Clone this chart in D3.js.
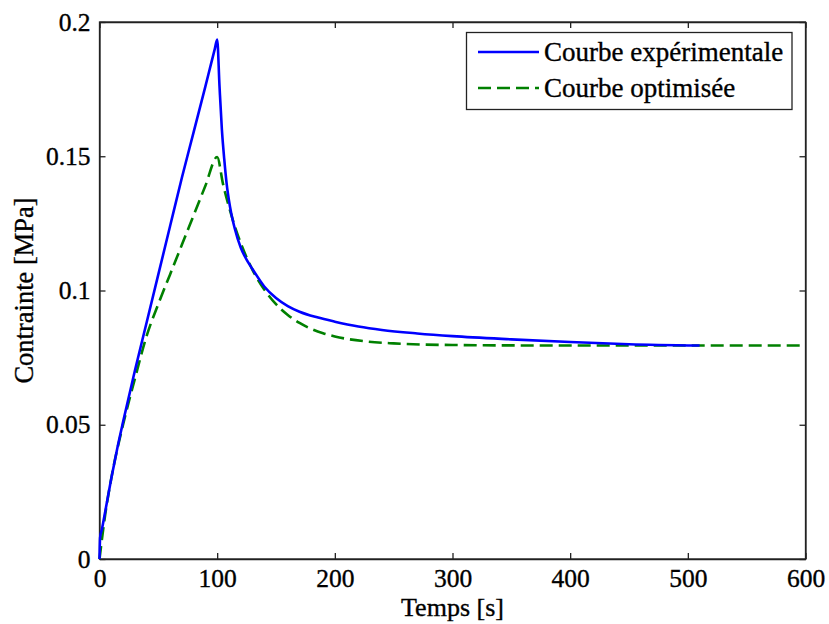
<!DOCTYPE html>
<html>
<head>
<meta charset="utf-8">
<script src="https://cdn.jsdelivr.net/npm/d3@7"></script>
<style>
  body { margin: 0; background: #fff; }
</style>
</head>
<body>
<div id="chart"></div>
<script>
// data
const expT = [0, 0.5, 2, 5, 10, 15, 20, 30, 40, 50, 60, 70, 80, 90, 95, 98, 100, 102, 104, 106, 108, 111, 115, 120, 125, 130, 140, 150, 160, 170, 185, 200, 220, 240, 270, 300, 350, 400, 450, 510];
const expV = [0, 0.008, 0.011, 0.018, 0.030, 0.041, 0.051, 0.070, 0.088, 0.106, 0.124, 0.142, 0.159, 0.176, 0.1848, 0.1900, 0.1935, 0.176, 0.160, 0.149, 0.140, 0.131, 0.123, 0.116, 0.1115, 0.108, 0.1015, 0.0972, 0.0942, 0.0921, 0.0900, 0.0884, 0.0866, 0.0853, 0.0840, 0.0830, 0.0818, 0.0808, 0.0800, 0.0795];

const optT = [0, 5, 10, 20, 30, 40, 50, 60, 70, 80, 90, 100, 105, 110, 115, 120, 130, 140, 150, 160, 170, 180, 190, 200, 225, 250, 300, 400, 500, 600];
const optV = [0, 0.017, 0.030, 0.050, 0.067, 0.083, 0.095, 0.106, 0.117, 0.128, 0.139, 0.1497, 0.1396, 0.1312, 0.1239, 0.1177, 0.1077, 0.1004, 0.0949, 0.0909, 0.0879, 0.0857, 0.0841, 0.0829, 0.0811, 0.0803, 0.0797, 0.0795, 0.0795, 0.0795];

const xTicks = [0, 100, 200, 300, 400, 500, 600];
const yTicks = [0, 0.05, 0.1, 0.15, 0.2];
const seriesNames = ["Courbe expérimentale", "Courbe optimisée"];

const serif = 'Liberation Serif';

// slightly heavier text, like the original export
function textStyle(sel, size) {
    sel.style('font-family', serif)
        .style('font-size', size + 'px')
        .attr('fill', '#000')
        .attr('stroke', '#000')
        .attr('stroke-width', 0.35);
}

function drawChart() {
    const width = 829, height = 624;
    const left = 99.5, right = 805.5, plotTop = 22, bottom = 559;

    const svg = d3.select('#chart').append('svg')
        .attr('width', width)
        .attr('height', height);

    svg.append('rect').attr('width', width).attr('height', height).attr('fill', '#fff');

    const x = d3.scaleLinear().domain([0, 600]).range([left, right]);
    const y = d3.scaleLinear().domain([0, 0.2]).range([bottom, plotTop]);

    // axes (ticks inside, box around)
    svg.append('g')
        .attr('transform', `translate(0,${bottom})`)
        .call(d3.axisBottom(x).tickValues(xTicks).tickSizeInner(-6).tickSizeOuter(0).tickPadding(10).tickFormat(d3.format('d')));

    svg.append('g')
        .attr('transform', `translate(${left},0)`)
        .call(d3.axisLeft(y).tickValues(yTicks).tickSizeInner(-6).tickSizeOuter(0).tickPadding(9).tickFormat(d => d3.format('~g')(d)));

    svg.append('g')
        .attr('transform', `translate(0,${plotTop})`)
        .call(d3.axisTop(x).tickValues(xTicks).tickSizeInner(-6).tickSizeOuter(0).tickFormat(''));

    svg.append('g')
        .attr('transform', `translate(${right},0)`)
        .call(d3.axisRight(y).tickValues(yTicks).tickSizeInner(-6).tickSizeOuter(0).tickFormat(''));

    svg.selectAll('.tick text').call(textStyle, 25.5);
    svg.selectAll('.domain').attr('stroke', '#222').attr('stroke-width', 1.3);
    svg.selectAll('.tick line').attr('stroke', '#222').attr('stroke-width', 1.3);

    svg.append('rect')
        .attr('x', left).attr('y', plotTop)
        .attr('width', right - left).attr('height', bottom - plotTop)
        .attr('fill', 'none').attr('stroke', '#222').attr('stroke-width', 1.3);

    // curves
    const line = d3.line().curve(d3.curveMonotoneX).x(d => x(d[0])).y(d => y(d[1]));

    svg.append('path')
        .datum(optT.map((t, i) => [t, optV[i]]))
        .attr('d', line)
        .attr('fill', 'none')
        .attr('stroke', '#008000')
        .attr('stroke-width', 2.6)
        .attr('stroke-dasharray', '13,6');

    svg.append('path')
        .datum(expT.map((t, i) => [t, expV[i]]))
        .attr('d', line)
        .attr('fill', 'none')
        .attr('stroke', '#0000ff')
        .attr('stroke-width', 2.6);

    // axis labels
    svg.append('text')
        .attr('x', (left + right) / 2)
        .attr('y', 616)
        .attr('text-anchor', 'middle')
        .call(textStyle, 26)
        .text('Temps [s]');

    svg.append('text')
        .attr('transform', `translate(33,${(plotTop + bottom) / 2}) rotate(-90)`)
        .attr('text-anchor', 'middle')
        .call(textStyle, 26.5)
        .text('Contrainte [MPa]');

    // legend
    const legend = svg.append('g');
    legend.append('rect')
        .attr('x', 466.5).attr('y', 32.5)
        .attr('width', 325.5).attr('height', 77)
        .attr('fill', '#fff').attr('stroke', '#222').attr('stroke-width', 1.3);

    const legendRows = [
        { name: seriesNames[0], color: '#0000ff', dash: null, y: 52 },
        { name: seriesNames[1], color: '#008000', dash: '13,6', y: 88 }
    ];
    legendRows.forEach(r => {
        legend.append('line')
            .attr('x1', 478).attr('x2', 539)
            .attr('y1', r.y).attr('y2', r.y)
            .attr('stroke', r.color).attr('stroke-width', 2.6)
            .attr('stroke-dasharray', r.dash);
        legend.append('text')
            .attr('x', 544).attr('y', r.y + 9)
            .call(textStyle, 27)
            .text(r.name);
    });
}

drawChart();
</script>
</body>
</html>
